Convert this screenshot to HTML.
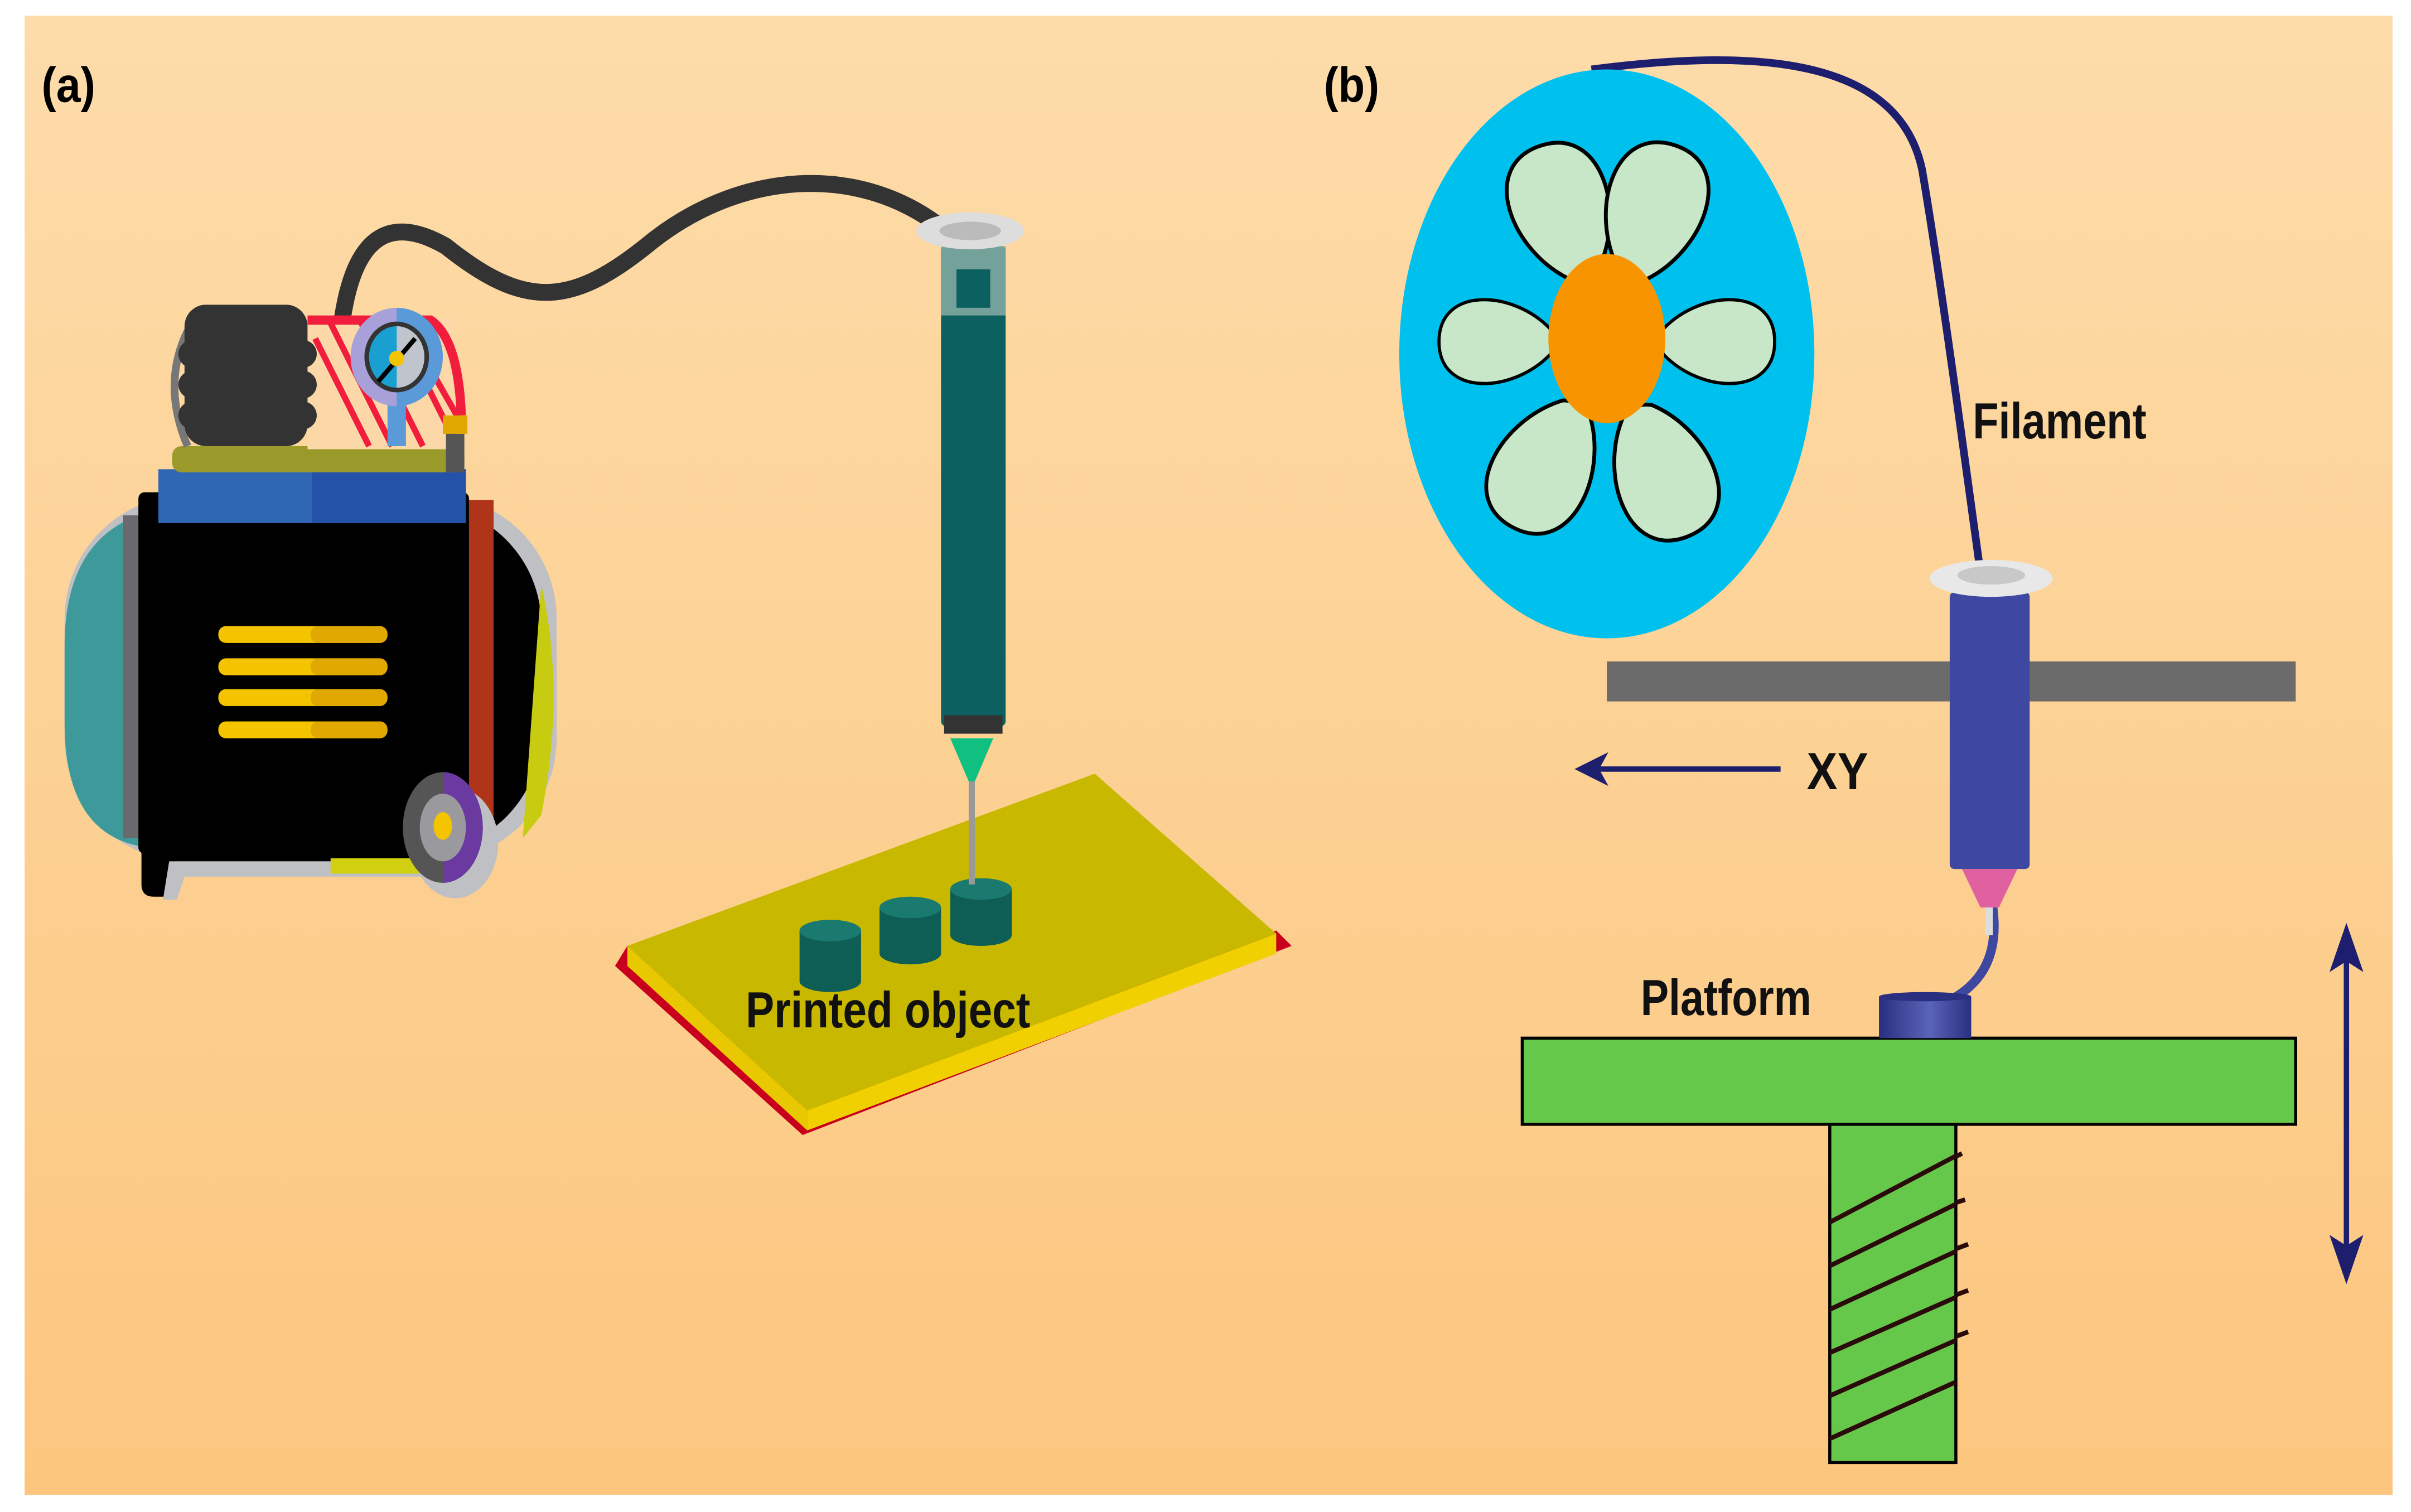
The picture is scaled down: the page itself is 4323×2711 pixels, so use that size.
<!DOCTYPE html>
<html><head><meta charset="utf-8"><style>html,body{margin:0;padding:0;background:#fff}svg{display:block}text{font-family:"Liberation Sans",sans-serif;font-weight:bold}</style></head>
<body>
<svg width="4323" height="2711" viewBox="0 0 1568 983" xmlns="http://www.w3.org/2000/svg">
<defs>
<linearGradient id="bg" x1="0" y1="0" x2="0" y2="1"><stop offset="0" stop-color="#FDDCAA"/><stop offset="1" stop-color="#FCC67E"/></linearGradient>
<linearGradient id="cyl" x1="0" y1="0" x2="1" y2="0"><stop offset="0" stop-color="#2a2f80"/><stop offset="0.55" stop-color="#5a64b8"/><stop offset="1" stop-color="#2a2f80"/></linearGradient>
<clipPath id="screw"><rect x="1190" y="731" width="82" height="220"/></clipPath>
<path id="petal" d="M-10 0 C-40 -30 -42 -88 0 -88 C42 -88 40 -30 10 0 Q0 6 -10 0Z"/>
</defs>
<rect x="16" y="10" width="1540" height="962" fill="url(#bg)"/>
<text x="27" y="66" font-size="32" textLength="35" lengthAdjust="spacingAndGlyphs">(a)</text>
<text x="861" y="66" font-size="32" textLength="36" lengthAdjust="spacingAndGlyphs">(b)</text>

<!-- hose -->
<path d="M222 212 C230 150 255 140 290 160 C340 200 370 200 420 160 C480 110 560 105 615 150" fill="none" stroke="#333" stroke-width="11" stroke-linecap="round"/>

<!-- compressor -->
<rect x="42" y="322" width="320" height="238" rx="80" fill="#bfc0c4"/>
<rect x="46" y="328" width="306" height="226" rx="78" fill="#000"/>
<path d="M118 330 L110 330 Q42 340 42 420 L42 470 Q42 540 90 550 L118 550 Z" fill="#3e9a9a"/>
<rect x="80" y="335" width="12" height="210" fill="#6a6a6e"/>
<rect x="92" y="340" width="10" height="200" fill="#f5c400"/>
<path d="M352 380 Q368 450 352 530 L340 545 L352 380Z" fill="#c8cc10"/>
<rect x="303" y="325" width="18" height="222" fill="#b0341a"/>
<rect x="90" y="320" width="215" height="235" rx="4" fill="#000"/>
<path d="M92 555 L92 575 Q92 583 100 583 L110 583 L114 560 L300 560 L300 550 L92 550Z" fill="#000"/>
<path d="M110 560 L300 560 L300 570 L120 570 L115 585 L106 585Z" fill="#bfc0c4"/>
<rect x="215" y="558" width="85" height="10" fill="#d0d010"/>
<rect x="103" y="305" width="200" height="35" fill="#3067b5"/>
<rect x="203" y="305" width="100" height="35" fill="#2452a8"/>
<rect x="112" y="290" width="190" height="17" rx="6" fill="#9a9a2a"/>
<path d="M122 290 Q105 250 122 215" fill="none" stroke="#777" stroke-width="5"/>
<rect x="200" y="207" width="95" height="85" fill="#fcd8a8"/>
<g stroke="#f01e3c" stroke-width="4"><line x1="205" y1="220" x2="240" y2="290"/><line x1="215" y1="210" x2="255" y2="290"/><line x1="235" y1="210" x2="275" y2="290"/><line x1="260" y1="215" x2="295" y2="285"/><line x1="280" y1="240" x2="300" y2="275"/></g>
<path d="M200 208 L280 208 Q298 220 300 270" fill="none" stroke="#f01e3c" stroke-width="6"/>
<rect x="120" y="198" width="80" height="92" rx="14" fill="#333"/>
<g fill="#333"><circle cx="125" cy="230" r="9"/><circle cx="125" cy="250" r="9"/><circle cx="125" cy="270" r="9"/><circle cx="197" cy="230" r="9"/><circle cx="197" cy="250" r="9"/><circle cx="197" cy="270" r="9"/></g>
<rect x="252" y="255" width="12" height="35" fill="#5a9ad8"/>
<ellipse cx="258" cy="232" rx="30" ry="32" fill="#a8a0d8"/>
<path d="M258 200 A30 32 0 0 1 258 264Z" fill="#5a9ad8"/>
<ellipse cx="258" cy="232" rx="21" ry="23" fill="#333"/>
<ellipse cx="258" cy="232" rx="18" ry="20" fill="#1aa0d0"/>
<path d="M258 212 A18 20 0 0 1 258 252Z" fill="#c0c4cc"/>
<line x1="246" y1="248" x2="270" y2="220" stroke="#000" stroke-width="3"/>
<circle cx="258" cy="233" r="5" fill="#f5c400"/>
<rect x="288" y="270" width="16" height="12" fill="#e0a800"/>
<rect x="290" y="282" width="12" height="25" fill="#555"/>
<g fill="#f5c400"><rect x="142" y="407" width="110" height="11" rx="5"/><rect x="142" y="428" width="110" height="11" rx="5"/><rect x="142" y="448" width="110" height="11" rx="5"/><rect x="142" y="469" width="110" height="11" rx="5"/></g>
<g fill="#e0a800"><rect x="202" y="407" width="50" height="11" rx="5"/><rect x="202" y="428" width="50" height="11" rx="5"/><rect x="202" y="448" width="50" height="11" rx="5"/><rect x="202" y="469" width="50" height="11" rx="5"/></g>
<ellipse cx="296" cy="548" rx="28" ry="36" fill="#bfc0c4"/>
<ellipse cx="288" cy="538" rx="26" ry="36" fill="#555"/>
<path d="M288 502 A26 36 0 0 1 288 574Z" fill="#6a3aa0"/>
<ellipse cx="288" cy="538" rx="15" ry="22" fill="#9a9a9e"/>
<ellipse cx="288" cy="537" rx="6" ry="9" fill="#f5c400"/>

<!-- plate -->
<polygon points="400,628 522,738 840,615 830,605 525,722 408,615" fill="#c8001e"/>
<polygon points="408,615 525,722 525,735 408,628" fill="#e8c800"/>
<polygon points="525,722 830,607 830,620 525,735" fill="#f0d000"/>
<polygon points="408,615 712,503 830,607 525,722" fill="#c9b800"/>
<g fill="#0e5e55"><rect x="520" y="605" width="40" height="33"/><ellipse cx="540" cy="638" rx="20" ry="7"/><rect x="572" y="590" width="40" height="30"/><ellipse cx="592" cy="620" rx="20" ry="7"/><rect x="618" y="578" width="40" height="30"/><ellipse cx="638" cy="608" rx="20" ry="7"/></g>
<g fill="#1a7a70"><ellipse cx="540" cy="605" rx="20" ry="7"/><ellipse cx="592" cy="590" rx="20" ry="7"/><ellipse cx="638" cy="578" rx="20" ry="7"/></g>
<text x="485" y="668" font-size="33" fill="#111" textLength="185" lengthAdjust="spacingAndGlyphs">Printed object</text>

<!-- syringe -->
<line x1="632" y1="505" x2="632" y2="575" stroke="#999" stroke-width="4"/>
<polygon points="618,480 646,480 634,508 630,508" fill="#10c080"/>
<rect x="612" y="160" width="42" height="312" rx="3" fill="#0d6060"/>
<rect x="612" y="160" width="42" height="45" fill="#7fa8a0" opacity="0.9"/>
<rect x="622" y="175" width="22" height="25" fill="#0d6060"/>
<rect x="614" y="465" width="38" height="12" fill="#333"/>
<ellipse cx="631" cy="150" rx="35" ry="12" fill="#ddd"/>
<ellipse cx="631" cy="150" rx="20" ry="6" fill="#bbb"/>

<!-- (b) spool -->
<path d="M1035 45 C1150 30 1235 40 1250 110 C1262 180 1278 300 1287 365" fill="none" stroke="#1e1e6e" stroke-width="5"/>
<ellipse cx="1045" cy="230" rx="135" ry="185" fill="#00C0EE"/>
<g fill="#C8E6C8" stroke="#000" stroke-width="2.5">
<use href="#petal" transform="translate(1030,178) rotate(-19)"/>
<use href="#petal" transform="translate(1062,178) rotate(18)"/>
<use href="#petal" transform="translate(1008,222) rotate(-90) scale(0.85 0.82)"/>
<use href="#petal" transform="translate(1082,222) rotate(90) scale(0.85 0.82)"/>
<use href="#petal" transform="translate(1025,265) rotate(208)"/>
<use href="#petal" transform="translate(1065,267) rotate(158)"/>
</g>
<ellipse cx="1045" cy="220" rx="38" ry="55" fill="#F79400"/>
<text x="1283" y="285" font-size="33" fill="#111" textLength="113" lengthAdjust="spacingAndGlyphs">Filament</text>

<!-- bar -->
<rect x="1045" y="430" width="448" height="26" fill="#6b6b6b"/>
<!-- extruder -->
<path d="M1296 590 C1300 620 1290 640 1265 652" fill="none" stroke="#3F48A0" stroke-width="6"/>
<rect x="1291" y="588" width="5" height="20" fill="#ddd"/>
<polygon points="1276,565 1312,565 1300,590 1288,590" fill="#e060a0"/>
<rect x="1268" y="385" width="52" height="180" rx="3" fill="#3F48A0"/>
<ellipse cx="1295" cy="376" rx="40" ry="12" fill="#e8e8e8"/>
<ellipse cx="1295" cy="374" rx="22" ry="6" fill="#c8c8c8"/>
<!-- XY -->
<line x1="1158" y1="500" x2="1040" y2="500" stroke="#1e1e6e" stroke-width="3.5"/>
<polygon points="1024,500 1046,489 1040,500 1046,511" fill="#1e1e6e"/>
<text x="1175" y="513" font-size="34" fill="#111" textLength="40" lengthAdjust="spacingAndGlyphs">XY</text>
<!-- platform -->
<rect x="1190" y="731" width="82" height="220" fill="#66C84A" stroke="#000" stroke-width="2"/>
<g clip-path="url(#screw)" stroke="#2a0a0a" stroke-width="3">
<line x1="1180" y1="800" x2="1275" y2="750"/><line x1="1180" y1="828" x2="1278" y2="780"/><line x1="1180" y1="856" x2="1280" y2="810"/><line x1="1180" y1="884" x2="1280" y2="840"/><line x1="1180" y1="912" x2="1280" y2="868"/><line x1="1180" y1="940" x2="1280" y2="895"/>
</g>
<g stroke="#2a0a0a" stroke-width="3"><line x1="1272" y1="752" x2="1276" y2="750"/><line x1="1272" y1="782" x2="1278" y2="780"/><line x1="1272" y1="812" x2="1280" y2="809"/><line x1="1272" y1="842" x2="1280" y2="839"/><line x1="1272" y1="869" x2="1280" y2="866"/></g>
<rect x="990" y="675" width="503" height="56" fill="#66C84A" stroke="#000" stroke-width="2"/>
<rect x="1222" y="648" width="60" height="27" fill="url(#cyl)"/>
<ellipse cx="1252" cy="648" rx="30" ry="3" fill="#2a2f80"/>
<text x="1067" y="660" font-size="33" fill="#111" textLength="111" lengthAdjust="spacingAndGlyphs">Platform</text>
<!-- vertical arrow -->
<line x1="1526" y1="615" x2="1526" y2="820" stroke="#1e1e6e" stroke-width="3.5"/>
<polygon points="1526,600 1537,632 1526,625 1515,632" fill="#1e1e6e"/>
<polygon points="1526,835 1537,803 1526,810 1515,803" fill="#1e1e6e"/>
</svg>
</body></html>
